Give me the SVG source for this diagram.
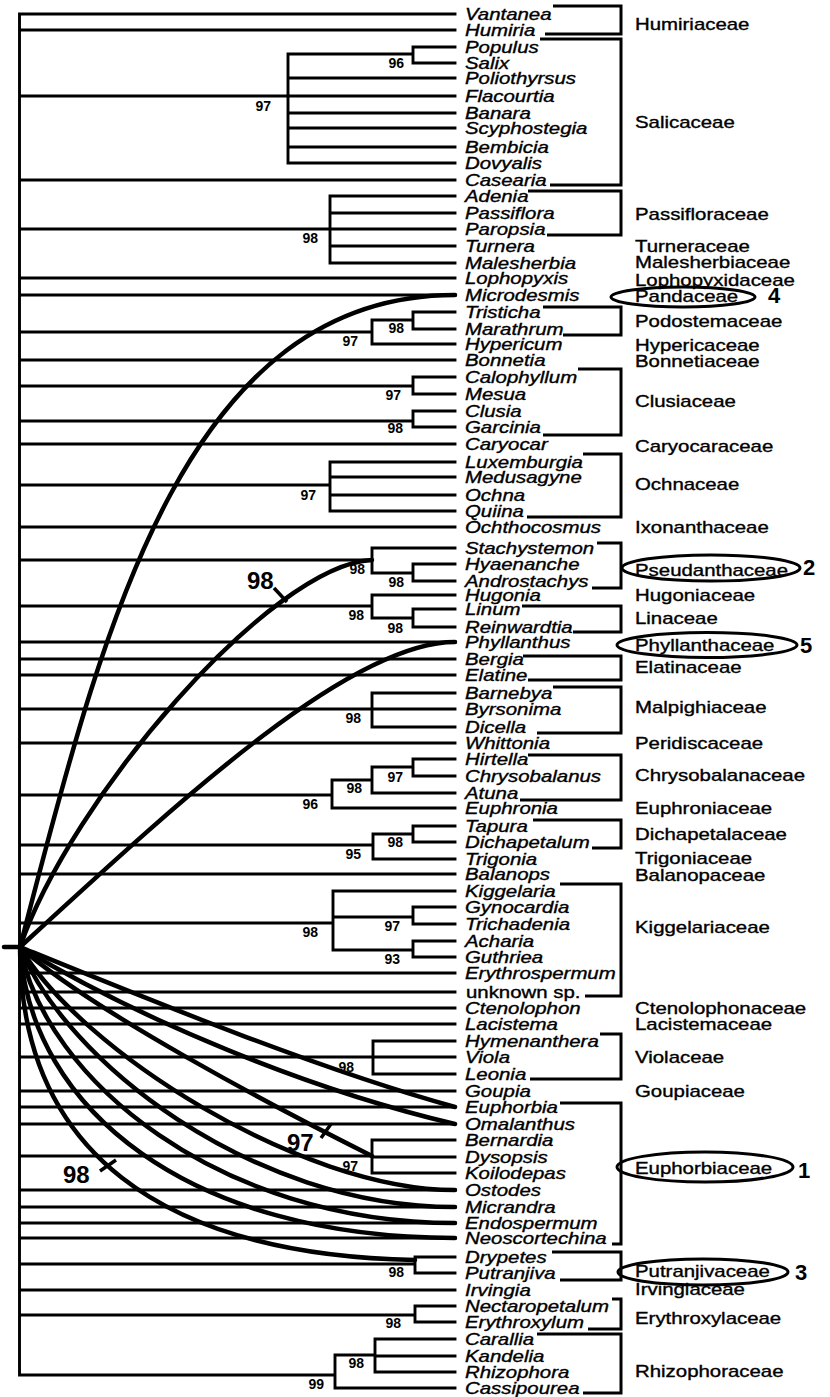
<svg xmlns="http://www.w3.org/2000/svg" width="830" height="1397" viewBox="0 0 830 1397">
<style>
.tx{font-family:"Liberation Sans",Arial,sans-serif;font-style:italic;font-size:16.2px;fill:#000;stroke:#000;stroke-width:0.35}
.tu{font-family:"Liberation Sans",Arial,sans-serif;font-size:16.2px;fill:#000;stroke:#000;stroke-width:0.35}
.fam{font-family:"Liberation Sans",Arial,sans-serif;font-size:16.2px;fill:#000;stroke:#000;stroke-width:0.35}
.bs{font-family:"Liberation Sans",Arial,sans-serif;font-weight:bold;font-size:14px;fill:#000;text-anchor:end}
.big{font-family:"Liberation Sans",Arial,sans-serif;font-weight:bold;font-size:24px;fill:#000}
.num{font-family:"Liberation Sans",Arial,sans-serif;font-weight:bold;font-size:22px;fill:#000}
.tree{fill:none;stroke:#000;stroke-width:2.9;stroke-linecap:square}
.br{fill:none;stroke:#000;stroke-width:3}
.cv{fill:none;stroke:#000;stroke-width:4.5;stroke-linecap:round}
.tick{fill:none;stroke:#000;stroke-width:3.5}
.ell{fill:none;stroke:#000;stroke-width:3}
</style>
<rect width="830" height="1397" fill="#fff"/>
<g id="connectors">
<path class="tree" d="M19.5 14 V1375
M19.5 14 H455 M19.5 30 H455 M19.5 180 H455 M19.5 278 H455 M19.5 295 H455 M19.5 360 H455 M19.5 444 H455 M19.5 527 H455 M19.5 642 H455 M19.5 659 H455 M19.5 675 H455 M19.5 743 H455 M19.5 874 H455 M19.5 973 H455 M19.5 992 H455 M19.5 1008 H455 M19.5 1024 H455 M19.5 1091 H455 M19.5 1107 H455 M19.5 1124 H455 M19.5 1190 H455 M19.5 1207 H455 M19.5 1223 H455 M19.5 1238 H455 M19.5 1290 H455
M19.5 96 H288 M288 54 V163 M288 54 H413 M413 47 V63 M413 47 H455 M413 63 H455 M288 78 H455 M288 96 H455 M288 113 H455 M288 128 H455 M288 147 H455 M288 163 H455
M19.5 229 H330 M330 196 V263 M330 196 H455 M330 213 H455 M330 229 H455 M330 246 H455 M330 263 H455
M19.5 332 H372 M372 320 V344 M372 320 H413 M413 312 V329 M413 312 H455 M413 329 H455 M372 344 H455
M19.5 386 H413 M413 377 V394 M413 377 H455 M413 394 H455
M19.5 421 H413 M413 411 V427 M413 411 H455 M413 427 H455
M19.5 485 H330 M330 462 V511 M330 462 H455 M330 477 H455 M330 495 H455 M330 511 H455
M19.5 560 H372 M372 548 V573 M372 548 H455 M372 573 H413 M413 564 V581 M413 564 H455 M413 581 H455
M19.5 606 H372 M372 595 V618 M372 595 H455 M372 618 H413 M413 609 V627 M413 609 H455 M413 627 H455
M19.5 709 H372 M372 693 V727 M372 693 H455 M372 709 H455 M372 727 H455
M19.5 795 H332 M332 780 V808 M332 780 H372 M372 767 V793 M372 767 H413 M413 759 V776 M413 759 H455 M413 776 H455 M372 793 H455 M332 808 H455
M19.5 845 H373 M373 834 V859 M373 834 H413 M413 826 V842 M413 826 H455 M413 842 H455 M373 859 H455
M19.5 923 H333 M333 891 V950 M333 891 H455 M333 917 H413 M413 907 V924 M413 907 H455 M413 924 H455 M333 950 H413 M413 941 V957 M413 941 H455 M413 957 H455
M19.5 1057 H373 M373 1041 V1074 M373 1041 H455 M373 1057 H455 M373 1074 H455
M19.5 1156 H372 M372 1140 V1173 M372 1140 H455 M372 1157 H455 M372 1173 H455
M19.5 1264 H415 M415 1257 V1273 M415 1257 H455 M415 1273 H455
M19.5 1315 H415 M415 1306 V1322 M415 1306 H455 M415 1322 H455
M19.5 1375 H335 M335 1355 V1388 M335 1355 H375 M375 1339 V1372 M375 1339 H455 M375 1356 H455 M375 1372 H455 M335 1388 H455"/>
<path d="M4 947 H20" fill="none" stroke="#000" stroke-width="4.5" stroke-linecap="round"/>
<path class="cv" d="M20 947 C100 640 180 295 455 295"/>
<path class="cv" d="M20 947 C70 800 270 565 372 560"/>
<path class="cv" d="M20 947 C180 800 350 642 455 642"/>
<path class="cv" d="M20 947 C150 1000 320 1070 455 1107"/>
<path class="cv" d="M20 947 C140 1020 310 1090 455 1124"/>
<path class="cv" d="M20 947 C90 1010 280 1110 372 1156"/>
<path class="cv" d="M20 947 C80 1050 300 1190 455 1190"/>
<path class="cv" d="M20 947 C65 1060 250 1207 455 1207"/>
<path class="cv" d="M20 947 C45 1080 220 1223 455 1223"/>
<path class="cv" d="M20 947 C30 1110 190 1238 455 1238"/>
<path class="cv" d="M20 947 C20 1150 160 1255 415 1260"/>
<path class="tick" d="M274 588 L287 602 M321 1138 L331 1124 M100 1171 L116 1160"/>
<path class="br" d="M553 6 H621 V34 H545 M540 39 H621 V185 H550 M528 191 H621 V235 H547 M543 307 H621 V335 H563 M578 369 H621 V435 H543 M583 454 H621 V517 H527 M597 543 H621 V588 H592 M522 606 H621 V632 H573 M523 656 H621 V680 H528 M553 687 H621 V733 H537 M528 755 H621 V800 H520 M533 820 H621 V848 H592 M560 884 H621 V996 H585 M600 1034 H621 V1079 H530 M560 1103 H621 V1244 H612 M552 1252 H621 V1280 H560 M612 1299 H621 V1329 H588 M537 1334 H621 V1393 H583"/>
</g>
<g id="support">
<text class="bs" x="404" y="68">96</text>
<text class="bs" x="271" y="111">97</text>
<text class="bs" x="318" y="243">98</text>
<text class="bs" x="404" y="333">98</text>
<text class="bs" x="358" y="346">97</text>
<text class="bs" x="401" y="400">97</text>
<text class="bs" x="403" y="433">98</text>
<text class="bs" x="316" y="500">97</text>
<text class="bs" x="365" y="574">98</text>
<text class="bs" x="404" y="587">98</text>
<text class="bs" x="364" y="620">98</text>
<text class="bs" x="403" y="633">98</text>
<text class="bs" x="361" y="723">98</text>
<text class="bs" x="403" y="782">97</text>
<text class="bs" x="362" y="793">98</text>
<text class="bs" x="318" y="809">96</text>
<text class="bs" x="403" y="847">98</text>
<text class="bs" x="361" y="859">95</text>
<text class="bs" x="400" y="931">97</text>
<text class="bs" x="318" y="937">98</text>
<text class="bs" x="400" y="964">93</text>
<text class="bs" x="354" y="1072">98</text>
<text class="bs" x="358" y="1171">97</text>
<text class="bs" x="404" y="1277">98</text>
<text class="bs" x="401" y="1328">98</text>
<text class="bs" x="364" y="1368">98</text>
<text class="bs" x="324" y="1389">99</text>
<text class="big" x="247" y="589">98</text>
<text class="big" x="287" y="1151">97</text>
<text class="big" x="63" y="1183">98</text>
</g>
<g id="taxa">
<g id="t-Vantanea"><text class="tx" transform="translate(465,20) scale(1.26,1)">Vantanea</text></g>
<g id="t-Humiria"><text class="tx" transform="translate(465,36) scale(1.26,1)">Humiria</text></g>
<g id="t-Populus"><text class="tx" transform="translate(465,53) scale(1.26,1)">Populus</text></g>
<g id="t-Salix"><text class="tx" transform="translate(465,69) scale(1.26,1)">Salix</text></g>
<g id="t-Poliothyrsus"><text class="tx" transform="translate(465,84) scale(1.26,1)">Poliothyrsus</text></g>
<g id="t-Flacourtia"><text class="tx" transform="translate(465,102) scale(1.26,1)">Flacourtia</text></g>
<g id="t-Banara"><text class="tx" transform="translate(465,119) scale(1.26,1)">Banara</text></g>
<g id="t-Scyphostegia"><text class="tx" transform="translate(465,134) scale(1.26,1)">Scyphostegia</text></g>
<g id="t-Bembicia"><text class="tx" transform="translate(465,153) scale(1.26,1)">Bembicia</text></g>
<g id="t-Dovyalis"><text class="tx" transform="translate(465,169) scale(1.26,1)">Dovyalis</text></g>
<g id="t-Casearia"><text class="tx" transform="translate(465,186) scale(1.26,1)">Casearia</text></g>
<g id="t-Adenia"><text class="tx" transform="translate(465,202) scale(1.26,1)">Adenia</text></g>
<g id="t-Passiflora"><text class="tx" transform="translate(465,219) scale(1.26,1)">Passiflora</text></g>
<g id="t-Paropsia"><text class="tx" transform="translate(465,235) scale(1.26,1)">Paropsia</text></g>
<g id="t-Turnera"><text class="tx" transform="translate(465,252) scale(1.26,1)">Turnera</text></g>
<g id="t-Malesherbia"><text class="tx" transform="translate(465,269) scale(1.26,1)">Malesherbia</text></g>
<g id="t-Lophopyxis"><text class="tx" transform="translate(465,284) scale(1.26,1)">Lophopyxis</text></g>
<g id="t-Microdesmis"><text class="tx" transform="translate(465,301) scale(1.26,1)">Microdesmis</text></g>
<g id="t-Tristicha"><text class="tx" transform="translate(465,318) scale(1.26,1)">Tristicha</text></g>
<g id="t-Marathrum"><text class="tx" transform="translate(465,335) scale(1.26,1)">Marathrum</text></g>
<g id="t-Hypericum"><text class="tx" transform="translate(465,350) scale(1.26,1)">Hypericum</text></g>
<g id="t-Bonnetia"><text class="tx" transform="translate(465,366) scale(1.26,1)">Bonnetia</text></g>
<g id="t-Calophyllum"><text class="tx" transform="translate(465,383) scale(1.26,1)">Calophyllum</text></g>
<g id="t-Mesua"><text class="tx" transform="translate(465,400) scale(1.26,1)">Mesua</text></g>
<g id="t-Clusia"><text class="tx" transform="translate(465,417) scale(1.26,1)">Clusia</text></g>
<g id="t-Garcinia"><text class="tx" transform="translate(465,433) scale(1.26,1)">Garcinia</text></g>
<g id="t-Caryocar"><text class="tx" transform="translate(465,450) scale(1.26,1)">Caryocar</text></g>
<g id="t-Luxemburgia"><text class="tx" transform="translate(465,468) scale(1.26,1)">Luxemburgia</text></g>
<g id="t-Medusagyne"><text class="tx" transform="translate(465,483) scale(1.26,1)">Medusagyne</text></g>
<g id="t-Ochna"><text class="tx" transform="translate(465,501) scale(1.26,1)">Ochna</text></g>
<g id="t-Quiina"><text class="tx" transform="translate(465,517) scale(1.26,1)">Quiina</text></g>
<g id="t-Ochthocosmus"><text class="tx" transform="translate(465,533) scale(1.26,1)">Ochthocosmus</text></g>
<g id="t-Stachystemon"><text class="tx" transform="translate(465,554) scale(1.26,1)">Stachystemon</text></g>
<g id="t-Hyaenanche"><text class="tx" transform="translate(465,570) scale(1.26,1)">Hyaenanche</text></g>
<g id="t-Androstachys"><text class="tx" transform="translate(465,587) scale(1.26,1)">Androstachys</text></g>
<g id="t-Hugonia"><text class="tx" transform="translate(465,601) scale(1.26,1)">Hugonia</text></g>
<g id="t-Linum"><text class="tx" transform="translate(465,615) scale(1.26,1)">Linum</text></g>
<g id="t-Reinwardtia"><text class="tx" transform="translate(465,633) scale(1.26,1)">Reinwardtia</text></g>
<g id="t-Phyllanthus"><text class="tx" transform="translate(465,648) scale(1.26,1)">Phyllanthus</text></g>
<g id="t-Bergia"><text class="tx" transform="translate(465,665) scale(1.26,1)">Bergia</text></g>
<g id="t-Elatine"><text class="tx" transform="translate(465,681) scale(1.26,1)">Elatine</text></g>
<g id="t-Barnebya"><text class="tx" transform="translate(465,699) scale(1.26,1)">Barnebya</text></g>
<g id="t-Byrsonima"><text class="tx" transform="translate(465,715) scale(1.26,1)">Byrsonima</text></g>
<g id="t-Dicella"><text class="tx" transform="translate(465,733) scale(1.26,1)">Dicella</text></g>
<g id="t-Whittonia"><text class="tx" transform="translate(465,749) scale(1.26,1)">Whittonia</text></g>
<g id="t-Hirtella"><text class="tx" transform="translate(465,765) scale(1.26,1)">Hirtella</text></g>
<g id="t-Chrysobalanus"><text class="tx" transform="translate(465,782) scale(1.26,1)">Chrysobalanus</text></g>
<g id="t-Atuna"><text class="tx" transform="translate(465,799) scale(1.26,1)">Atuna</text></g>
<g id="t-Euphronia"><text class="tx" transform="translate(465,814) scale(1.26,1)">Euphronia</text></g>
<g id="t-Tapura"><text class="tx" transform="translate(465,832) scale(1.26,1)">Tapura</text></g>
<g id="t-Dichapetalum"><text class="tx" transform="translate(465,848) scale(1.26,1)">Dichapetalum</text></g>
<g id="t-Trigonia"><text class="tx" transform="translate(465,865) scale(1.26,1)">Trigonia</text></g>
<g id="t-Balanops"><text class="tx" transform="translate(465,880) scale(1.26,1)">Balanops</text></g>
<g id="t-Kiggelaria"><text class="tx" transform="translate(465,897) scale(1.26,1)">Kiggelaria</text></g>
<g id="t-Gynocardia"><text class="tx" transform="translate(465,913) scale(1.26,1)">Gynocardia</text></g>
<g id="t-Trichadenia"><text class="tx" transform="translate(465,930) scale(1.26,1)">Trichadenia</text></g>
<g id="t-Acharia"><text class="tx" transform="translate(465,947) scale(1.26,1)">Acharia</text></g>
<g id="t-Guthriea"><text class="tx" transform="translate(465,963) scale(1.26,1)">Guthriea</text></g>
<g id="t-Erythrospermum"><text class="tx" transform="translate(465,979) scale(1.26,1)">Erythrospermum</text></g>
<g id="t-unknown"><text class="tu" transform="translate(466,998) scale(1.26,1)">unknown sp.</text></g>
<g id="t-Ctenolophon"><text class="tx" transform="translate(465,1014) scale(1.26,1)">Ctenolophon</text></g>
<g id="t-Lacistema"><text class="tx" transform="translate(465,1030) scale(1.26,1)">Lacistema</text></g>
<g id="t-Hymenanthera"><text class="tx" transform="translate(465,1047) scale(1.26,1)">Hymenanthera</text></g>
<g id="t-Viola"><text class="tx" transform="translate(465,1063) scale(1.26,1)">Viola</text></g>
<g id="t-Leonia"><text class="tx" transform="translate(465,1080) scale(1.26,1)">Leonia</text></g>
<g id="t-Goupia"><text class="tx" transform="translate(465,1097) scale(1.26,1)">Goupia</text></g>
<g id="t-Euphorbia"><text class="tx" transform="translate(465,1113) scale(1.26,1)">Euphorbia</text></g>
<g id="t-Omalanthus"><text class="tx" transform="translate(465,1130) scale(1.26,1)">Omalanthus</text></g>
<g id="t-Bernardia"><text class="tx" transform="translate(465,1146) scale(1.26,1)">Bernardia</text></g>
<g id="t-Dysopsis"><text class="tx" transform="translate(465,1163) scale(1.26,1)">Dysopsis</text></g>
<g id="t-Koilodepas"><text class="tx" transform="translate(465,1179) scale(1.26,1)">Koilodepas</text></g>
<g id="t-Ostodes"><text class="tx" transform="translate(465,1196) scale(1.26,1)">Ostodes</text></g>
<g id="t-Micrandra"><text class="tx" transform="translate(465,1213) scale(1.26,1)">Micrandra</text></g>
<g id="t-Endospermum"><text class="tx" transform="translate(465,1229) scale(1.26,1)">Endospermum</text></g>
<g id="t-Neoscortechina"><text class="tx" transform="translate(465,1244) scale(1.26,1)">Neoscortechina</text></g>
<g id="t-Drypetes"><text class="tx" transform="translate(465,1263) scale(1.26,1)">Drypetes</text></g>
<g id="t-Putranjiva"><text class="tx" transform="translate(465,1279) scale(1.26,1)">Putranjiva</text></g>
<g id="t-Irvingia"><text class="tx" transform="translate(465,1296) scale(1.26,1)">Irvingia</text></g>
<g id="t-Nectaropetalum"><text class="tx" transform="translate(465,1312) scale(1.26,1)">Nectaropetalum</text></g>
<g id="t-Erythroxylum"><text class="tx" transform="translate(465,1328) scale(1.26,1)">Erythroxylum</text></g>
<g id="t-Carallia"><text class="tx" transform="translate(465,1345) scale(1.26,1)">Carallia</text></g>
<g id="t-Kandelia"><text class="tx" transform="translate(465,1362) scale(1.26,1)">Kandelia</text></g>
<g id="t-Rhizophora"><text class="tx" transform="translate(465,1378) scale(1.26,1)">Rhizophora</text></g>
<g id="t-Cassipourea"><text class="tx" transform="translate(465,1394) scale(1.26,1)">Cassipourea</text></g>
</g>
<g id="families">
<g id="f-Humiriaceae"><text class="fam" transform="translate(635,30) scale(1.26,1)">Humiriaceae</text></g>
<g id="f-Salicaceae"><text class="fam" transform="translate(635,128) scale(1.26,1)">Salicaceae</text></g>
<g id="f-Passifloraceae"><text class="fam" transform="translate(635,220) scale(1.26,1)">Passifloraceae</text></g>
<g id="f-Turneraceae"><text class="fam" transform="translate(635,252) scale(1.26,1)">Turneraceae</text></g>
<g id="f-Malesherbiaceae"><text class="fam" transform="translate(635,268) scale(1.26,1)">Malesherbiaceae</text></g>
<g id="f-Lophopyxidaceae"><text class="fam" transform="translate(635,286) scale(1.26,1)">Lophopyxidaceae</text></g>
<g id="f-Pandaceae"><ellipse class="ell" cx="683" cy="297" rx="72" ry="10"/><text class="fam" transform="translate(635,302) scale(1.26,1)">Pandaceae</text><text class="num" x="768" y="303">4</text></g>
<g id="f-Podostemaceae"><text class="fam" transform="translate(635,327) scale(1.26,1)">Podostemaceae</text></g>
<g id="f-Hypericaceae"><text class="fam" transform="translate(635,351) scale(1.26,1)">Hypericaceae</text></g>
<g id="f-Bonnetiaceae"><text class="fam" transform="translate(635,367) scale(1.26,1)">Bonnetiaceae</text></g>
<g id="f-Clusiaceae"><text class="fam" transform="translate(635,407) scale(1.26,1)">Clusiaceae</text></g>
<g id="f-Caryocaraceae"><text class="fam" transform="translate(635,452) scale(1.26,1)">Caryocaraceae</text></g>
<g id="f-Ochnaceae"><text class="fam" transform="translate(635,490) scale(1.26,1)">Ochnaceae</text></g>
<g id="f-Ixonanthaceae"><text class="fam" transform="translate(635,533) scale(1.26,1)">Ixonanthaceae</text></g>
<g id="f-Pseudanthaceae"><ellipse class="ell" cx="711" cy="568" rx="89" ry="13"/><text class="fam" transform="translate(635,576) scale(1.26,1)">Pseudanthaceae</text><text class="num" x="803" y="575">2</text></g>
<g id="f-Hugoniaceae"><text class="fam" transform="translate(635,601) scale(1.26,1)">Hugoniaceae</text></g>
<g id="f-Linaceae"><text class="fam" transform="translate(635,624) scale(1.26,1)">Linaceae</text></g>
<g id="f-Phyllanthaceae"><ellipse class="ell" cx="707" cy="645" rx="90" ry="12.5"/><text class="fam" transform="translate(635,651) scale(1.26,1)">Phyllanthaceae</text><text class="num" x="800" y="653">5</text></g>
<g id="f-Elatinaceae"><text class="fam" transform="translate(635,673) scale(1.26,1)">Elatinaceae</text></g>
<g id="f-Malpighiaceae"><text class="fam" transform="translate(635,713) scale(1.26,1)">Malpighiaceae</text></g>
<g id="f-Peridiscaceae"><text class="fam" transform="translate(635,749) scale(1.26,1)">Peridiscaceae</text></g>
<g id="f-Chrysobalanaceae"><text class="fam" transform="translate(635,781) scale(1.26,1)">Chrysobalanaceae</text></g>
<g id="f-Euphroniaceae"><text class="fam" transform="translate(635,814) scale(1.26,1)">Euphroniaceae</text></g>
<g id="f-Dichapetalaceae"><text class="fam" transform="translate(635,840) scale(1.26,1)">Dichapetalaceae</text></g>
<g id="f-Trigoniaceae"><text class="fam" transform="translate(635,864) scale(1.26,1)">Trigoniaceae</text></g>
<g id="f-Balanopaceae"><text class="fam" transform="translate(635,881) scale(1.26,1)">Balanopaceae</text></g>
<g id="f-Kiggelariaceae"><text class="fam" transform="translate(635,933) scale(1.26,1)">Kiggelariaceae</text></g>
<g id="f-Ctenolophonaceae"><text class="fam" transform="translate(635,1014) scale(1.26,1)">Ctenolophonaceae</text></g>
<g id="f-Lacistemaceae"><text class="fam" transform="translate(635,1030) scale(1.26,1)">Lacistemaceae</text></g>
<g id="f-Violaceae"><text class="fam" transform="translate(635,1063) scale(1.26,1)">Violaceae</text></g>
<g id="f-Goupiaceae"><text class="fam" transform="translate(635,1097) scale(1.26,1)">Goupiaceae</text></g>
<g id="f-Euphorbiaceae"><ellipse class="ell" cx="705" cy="1167" rx="88" ry="15"/><text class="fam" transform="translate(635,1174) scale(1.26,1)">Euphorbiaceae</text><text class="num" x="798" y="1178">1</text></g>
<g id="f-Putranjivaceae"><ellipse class="ell" cx="703" cy="1272" rx="85" ry="13"/><text class="fam" transform="translate(635,1277) scale(1.26,1)">Putranjivaceae</text><text class="num" x="795" y="1280">3</text></g>
<g id="f-Irvingiaceae"><text class="fam" transform="translate(635,1295) scale(1.26,1)">Irvingiaceae</text></g>
<g id="f-Erythroxylaceae"><text class="fam" transform="translate(635,1324) scale(1.26,1)">Erythroxylaceae</text></g>
<g id="f-Rhizophoraceae"><text class="fam" transform="translate(635,1377) scale(1.26,1)">Rhizophoraceae</text></g>
</g>
</svg>
